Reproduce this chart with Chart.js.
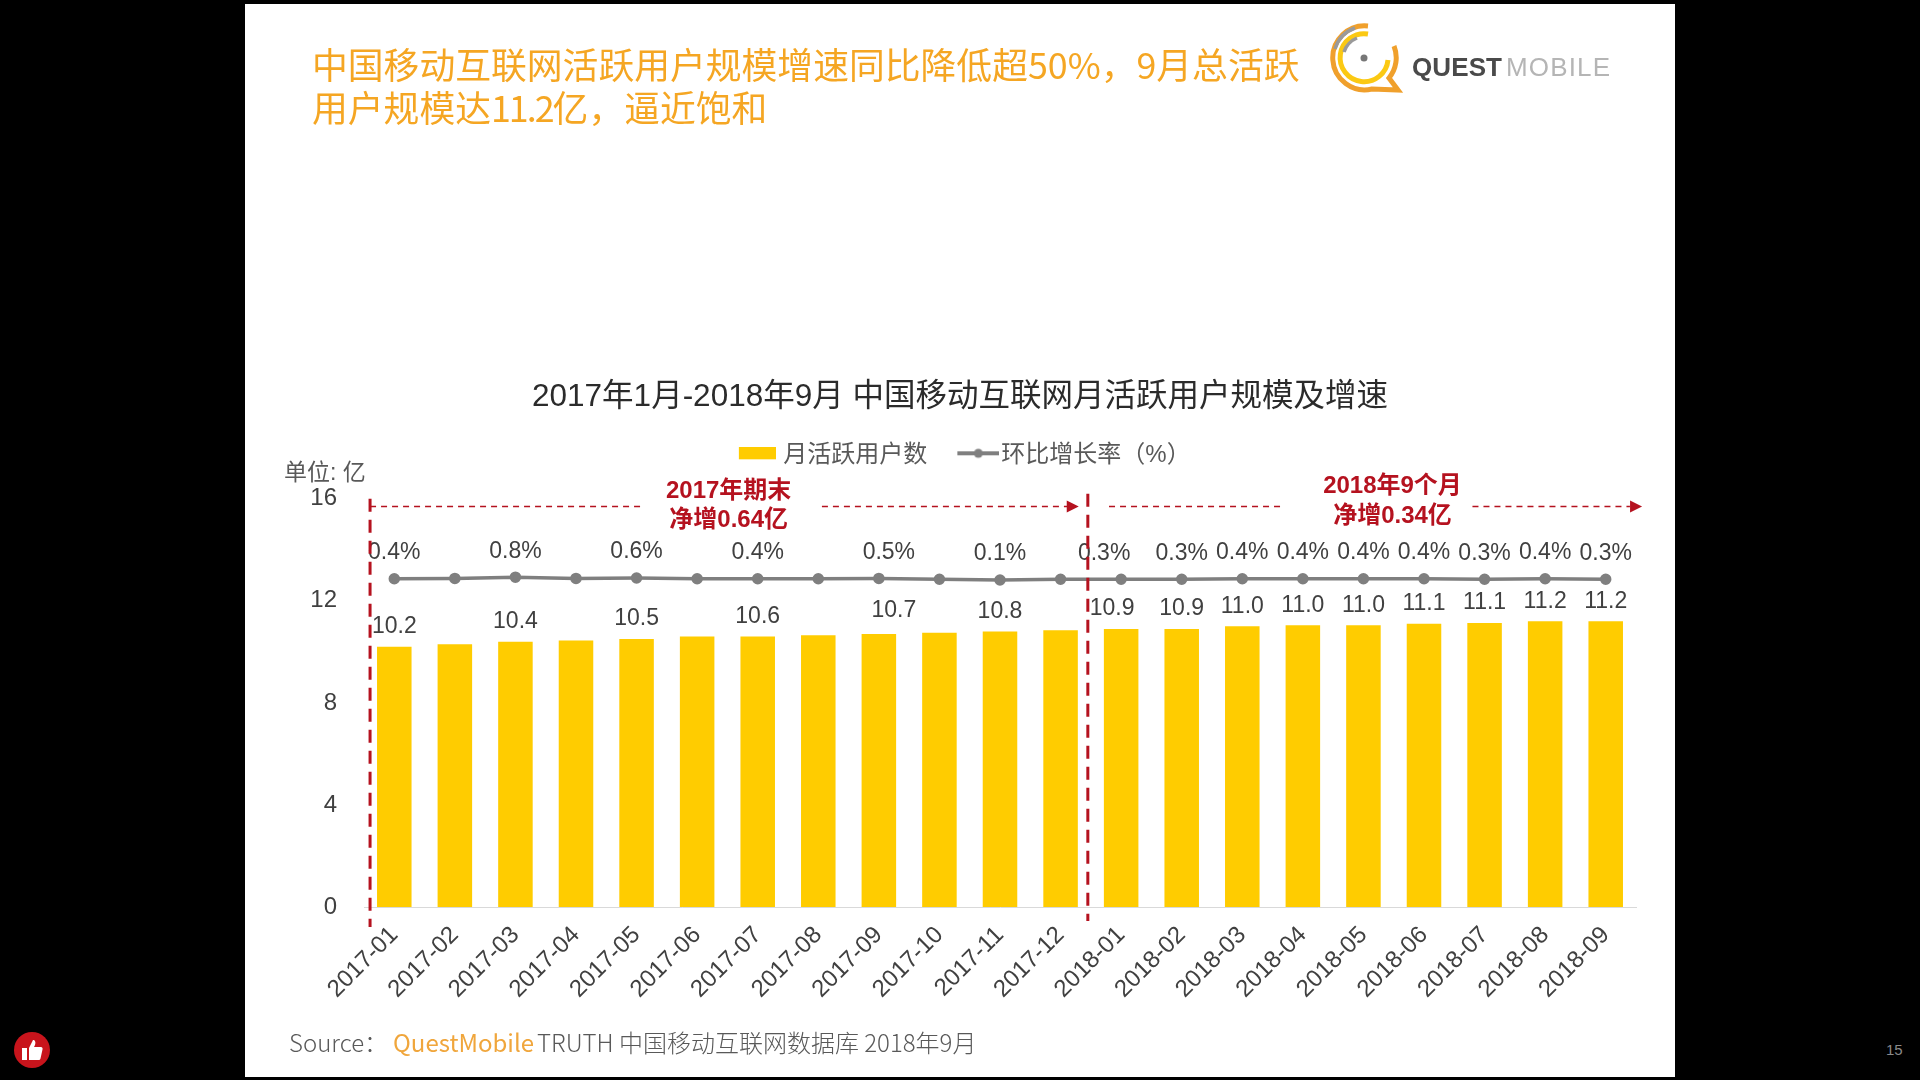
<!DOCTYPE html>
<html>
<head>
<meta charset="utf-8">
<title>月活跃用户规模</title>
<script src="https://cdn.jsdelivr.net/npm/chart.js@4"></script>
<style>
  html, body { margin: 0; padding: 0; width: 1920px; height: 1080px; background: #000; overflow: hidden; }
  body, div, span { font-family: "Liberation Sans", "Noto Sans CJK SC", sans-serif; }
  #slide { position: absolute; left: 245px; top: 4px; width: 1430px; height: 1073px; background: #fff; }
  #chart1 { position: absolute; left: 0; top: 0; }
  .head { position: absolute; left: 312px; top: 42px; width: 1010px; font-family: "Noto Sans CJK SC", sans-serif;
          font-weight: 400; font-size: 35.8px; line-height: 43px; color: #f5a623; white-space: nowrap; }
  .head span { font-family: inherit; letter-spacing: -2px; }
  .unit { position: absolute; left: 284px; top: 453px; font-size: 23px; color: #595959; }
  .source { position: absolute; left: 289px; top: 1028px; font-size: 24px; color: #595959; white-space: nowrap;
            font-family: "Noto Sans CJK SC", sans-serif; font-weight: 300; line-height: 28px; }
  .source b { font-weight: 400; color: #f0a63c; margin: 0 3px 0 5px; }
  .page { position: absolute; left: 1886px; top: 1041px; font-size: 15px; color: #8a8a8a; }
  .logo { position: absolute; left: 1328px; top: 22px; }
  .thumb { position: absolute; left: 13px; top: 1031px; }
</style>
</head>
<body>
<div id="slide"><canvas id="chart1" width="1430" height="1073"></canvas></div>

<div class="head">中国移动互联网活跃用户规模增速同比降低超50%，9月总活跃<br>用户规模达<span>11.2</span>亿，逼近饱和</div>
<svg class="logo" width="290" height="76" viewBox="0 0 290 76">
  <path d="M40 4 A32 32 0 1 0 44 67 L70 68 L61 56 A32 32 0 0 0 66 24" fill="none" stroke="#f0a02c" stroke-width="5"/>
  <path d="M40 12 A24 24 0 1 0 60 38" fill="none" stroke="#fbc913" stroke-width="5"/>
  <path d="M7 27 A32 32 0 0 1 27 6 M16 30 A23 23 0 0 1 29 16" fill="none" stroke="#9a9a9a" stroke-width="3.500"/>
  <circle cx="36" cy="36" r="3.500" fill="#777"/>
  <text x="84" y="54" font-family="Liberation Sans" font-size="26" font-weight="bold" fill="#4a4a4a" textLength="90">QUEST</text>
  <text x="178" y="54" font-family="Liberation Sans" font-size="26" fill="#b5b5b5" textLength="104">MOBILE</text>
</svg>
<div class="unit">单位: 亿</div>
<div class="source">Source：<b>QuestMobile</b>TRUTH 中国移动互联网数据库 2018年9月</div>
<div class="page">15</div>
<svg class="thumb" width="38" height="38" viewBox="0 0 38 38">
  <circle cx="19" cy="19" r="18" fill="#c8141c"/>
  <path d="M9 17h5v12H9z M16 17l4-8c2 0 3 2 2 5l-1 2h7c1 0 2 1 1.500 2.500l-2 9c-.3 1-1 1.500-2 1.500H16z" fill="#fff"/>
</svg>

<script>
const months = ['2017-01','2017-02','2017-03','2017-04','2017-05','2017-06','2017-07','2017-08','2017-09','2017-10','2017-11','2017-12',
  '2018-01','2018-02','2018-03','2018-04','2018-05','2018-06','2018-07','2018-08','2018-09'];
const activeUsers = [10.2,10.3,10.4,10.45,10.5,10.6,10.6,10.65,10.7,10.75,10.8,10.85,10.9,10.9,11.0,11.04,11.04,11.1,11.13,11.2,11.2];
const growthRate = [0.4,0.5,0.8,0.5,0.6,0.4,0.4,0.4,0.5,0.3,0.1,0.3,0.3,0.3,0.4,0.4,0.4,0.4,0.3,0.4,0.3];
const yTicks = [0,4,8,12,16];

// first twelve months only label every other point
const showLabel = (i) => i >= 12 || i % 2 === 0;
// a few labels sit off-centre in the original
const rateNudge = { 8: 10, 12: -17 };
const userNudge = { 8: 15, 12: -9 };
const userLift = { 8: 3 };

const RED = '#b5121f';
const TEXT = '#404040';
const SANS = '"Liberation Sans", "Noto Sans CJK SC", sans-serif';

function swatch(w, h, draw) {
  const c = document.createElement('canvas');
  c.width = w;
  c.height = h;
  draw(c.getContext('2d'));
  return c;
}
// swatches are drawn off-centre so they sit close to their text
const barSwatch = swatch(51, 17, (g) => { g.fillStyle = '#ffcc00'; g.fillRect(14, 0, 37, 12); });
const lineSwatch = swatch(62, 17, (g) => {
  g.strokeStyle = '#7f7f7f'; g.lineWidth = 4;
  g.beginPath(); g.moveTo(20, 6); g.lineTo(62, 6); g.stroke();
  g.fillStyle = '#7f7f7f';
  g.beginPath(); g.arc(41, 6, 4.5, 0, Math.PI * 2); g.fill();
});

function dashed(ctx, x1, y1, x2, y2, width, dash) {
  ctx.save();
  ctx.strokeStyle = RED;
  ctx.lineWidth = width;
  ctx.setLineDash(dash);
  ctx.beginPath();
  ctx.moveTo(x1, y1);
  ctx.lineTo(x2, y2);
  ctx.stroke();
  ctx.restore();
}

function arrowHead(ctx, x, y) {
  ctx.fillStyle = RED;
  ctx.beginPath();
  ctx.moveTo(x, y);
  ctx.lineTo(x - 12, y - 6);
  ctx.lineTo(x - 12, y + 6);
  ctx.fill();
}

// leaves room under the legend for the red period notes
const legendGap = {
  id: 'legendGap',
  beforeInit(chart) {
    const fit = chart.legend.fit;
    chart.legend.fit = function () {
      fit.call(this);
      this.height += 21;
    };
  }
};

const valueLabels = {
  id: 'valueLabels',
  afterDatasetsDraw(chart) {
    const ctx = chart.ctx;
    const bars = chart.getDatasetMeta(0).data;
    const dots = chart.getDatasetMeta(1).data;
    ctx.save();
    ctx.font = '23px ' + SANS;
    ctx.fillStyle = TEXT;
    ctx.textAlign = 'center';
    ctx.textBaseline = 'middle';
    months.forEach((m, i) => {
      if (!showLabel(i)) return;
      ctx.fillText(activeUsers[i].toFixed(1), bars[i].x + (userNudge[i] || 0), bars[i].y - 20 - (userLift[i] || 0));
      ctx.fillText(growthRate[i].toFixed(1) + '%', dots[i].x + (rateNudge[i] || 0), dots[i].y - 26);
    });
    ctx.restore();
  }
};

const periodMarks = {
  id: 'periodMarks',
  afterDraw(chart) {
    const ctx = chart.ctx;
    const x = chart.scales.x;
    const y = chart.scales.y;
    const area = chart.chartArea;
    const armY = y.getPixelForValue(15.7);

    dashed(ctx, x.getPixelForValue(-0.4), y.getPixelForValue(16), x.getPixelForValue(-0.4), area.bottom + 20, 3, [13, 8]);
    dashed(ctx, x.getPixelForValue(11.45), y.getPixelForValue(16.2), x.getPixelForValue(11.45), area.bottom + 14, 3, [13, 8]);

    dashed(ctx, x.getPixelForValue(-0.4), armY, x.getPixelForValue(4.06), armY, 1.5, [6, 5]);
    dashed(ctx, x.getPixelForValue(7.06), armY, x.getPixelForValue(11.2), armY, 1.5, [6, 5]);
    arrowHead(ctx, x.getPixelForValue(11.3), armY);
    dashed(ctx, x.getPixelForValue(11.8), armY, x.getPixelForValue(14.66), armY, 1.5, [6, 5]);
    dashed(ctx, x.getPixelForValue(17.8), armY, x.getPixelForValue(20.4), armY, 1.5, [6, 5]);
    arrowHead(ctx, x.getPixelForValue(20.6), armY);

    ctx.save();
    ctx.font = 'bold 24px ' + SANS;
    ctx.fillStyle = RED;
    ctx.textAlign = 'center';
    ctx.textBaseline = 'middle';
    ctx.fillText('2017年期末', x.getPixelForValue(5.52), y.getPixelForValue(16.3));
    ctx.fillText('净增0.64亿', x.getPixelForValue(5.52), y.getPixelForValue(15.15));
    ctx.fillText('2018年9个月', x.getPixelForValue(16.48), y.getPixelForValue(16.47));
    ctx.fillText('净增0.34亿', x.getPixelForValue(16.48), y.getPixelForValue(15.3));
    ctx.restore();
  }
};

const config1 = {
  type: 'bar',
  data: {
    labels: months,
    datasets: [
      {
        label: '月活跃用户数',
        data: activeUsers,
        backgroundColor: '#ffcc00',
        categoryPercentage: 0.57,
        barPercentage: 1,
        yAxisID: 'y',
        order: 2
      },
      {
        type: 'line',
        label: '环比增长率（%）',
        data: growthRate,
        borderColor: '#7f7f7f',
        backgroundColor: '#7f7f7f',
        borderWidth: 3.5,
        pointRadius: 4,
        yAxisID: 'rate',
        order: 1
      }
    ]
  },
  options: {
    responsive: false,
    animation: false,
    devicePixelRatio: 1,
    layout: { padding: { left: 39, right: 39 } },
    font: { family: SANS },
    plugins: {
      title: {
        display: true,
        text: '2017年1月-2018年9月 中国移动互联网月活跃用户规模及增速',
        color: '#2b2b2b',
        font: { family: SANS, size: 31.5, weight: '400' },
        padding: { top: 374, bottom: 8 }
      },
      legend: {
        display: true,
        labels: {
          usePointStyle: true,
          pointStyleWidth: 42,
          color: '#595959',
          font: { family: SANS, size: 24 },
          padding: 20,
          sort: (a, b) => a.datasetIndex - b.datasetIndex,
          generateLabels: (chart) => Chart.defaults.plugins.legend.labels.generateLabels(chart).map((item) => {
            item.pointStyle = item.datasetIndex === 0 ? barSwatch : lineSwatch;
            return item;
          })
        }
      },
      tooltip: { enabled: false }
    },
    scales: {
      x: {
        grid: { display: false, drawTicks: false },
        border: { color: '#d9d9d9' },
        ticks: { color: TEXT, font: { family: SANS, size: 24 }, minRotation: 45, maxRotation: 45, padding: 14, autoSkip: false },
        afterFit: (s) => { s.height = 170; }
      },
      y: {
        min: 0,
        max: 16,
        afterBuildTicks: (s) => { s.ticks = yTicks.map((v) => ({ value: v })); },
        grid: { display: false, drawTicks: false },
        border: { display: false },
        ticks: { color: TEXT, font: { family: SANS, size: 24 }, padding: 27 },
        afterFit: (s) => { s.width = 80; }
      },
      // hidden axis for the rate line, which runs almost flat in the original
      rate: {
        display: false,
        position: 'right',
        min: -80,
        max: 20
      }
    }
  },
  plugins: [legendGap, valueLabels, periodMarks]
};

const chart1 = new Chart(document.getElementById('chart1'), config1);
</script>
</body>
</html>
